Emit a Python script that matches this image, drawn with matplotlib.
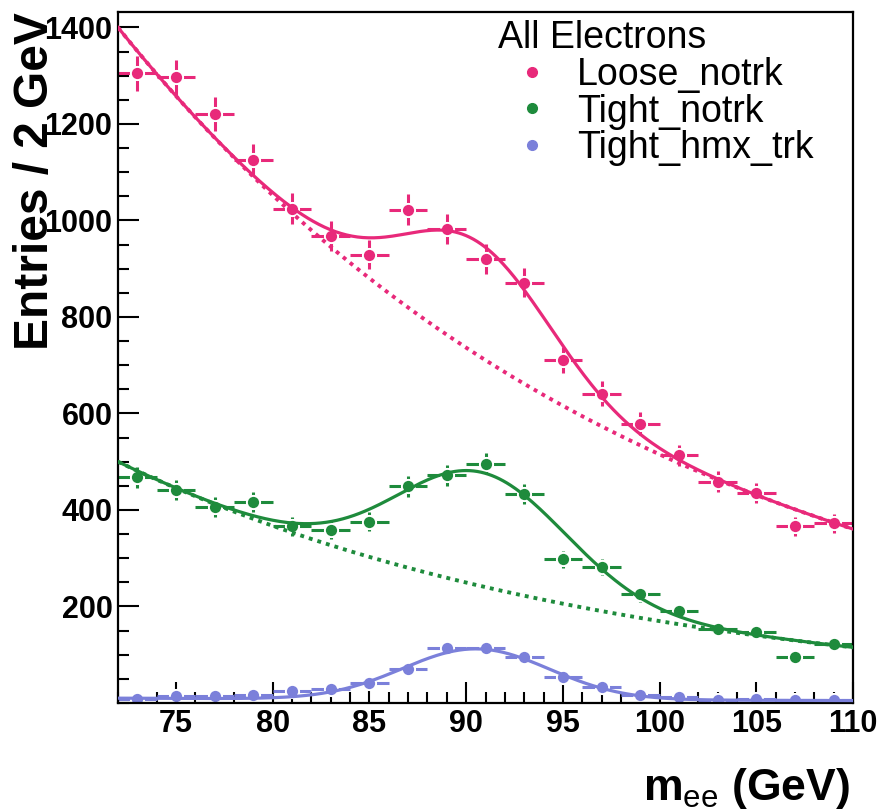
import numpy as np
import matplotlib
matplotlib.use('Agg')
import matplotlib.pyplot as plt
from matplotlib.lines import Line2D
from matplotlib.ticker import MultipleLocator, FixedLocator

plt.rcParams['font.family'] = ['Liberation Sans', 'DejaVu Sans']
plt.rcParams['mathtext.fontset'] = 'custom'
plt.rcParams['mathtext.rm'] = 'Liberation Sans'
plt.rcParams['mathtext.bf'] = 'Liberation Sans:bold'

# bin centres (2 GeV bins from 72 to 110)
mass = [73, 75, 77, 79, 81, 83, 85, 87, 89, 91, 93, 95, 97, 99, 101, 103, 105, 107, 109]

# entries per bin for each selection
loose_notrk = [1305, 1297, 1220, 1125, 1024, 968, 929, 1022, 982, 920, 871, 711, 641, 579, 513, 459, 436, 366, 372]
tight_notrk = [468, 442, 406, 416, 366, 358, 376, 449, 472, 496, 434, 298, 281, 225, 190, 153, 147, 95, 122]
tight_hmx_trk = [8, 14, 14, 17, 25, 29, 41, 70, 114, 114, 95, 54, 33, 17, 12, 6, 8, 6, 6]

labels = ['Loose_notrk', 'Tight_notrk', 'Tight_hmx_trk']
colours = ['#E8297A', '#1E8B3C', '#7B80DA']

# fit results: exponential background (norm at 72 GeV, slope) + gaussian peak (amp, mean, sigma)
bkg_norm = [1400, 500, 10]
bkg_slope = [0.0357, 0.0386, 0.018]
sig_amp = [235, 236, 105]
sig_mean = [90.6, 90.8, 90.5]
sig_width = [3.9, 4.4, 3.8]
draw_bkg = [True, True, False]

y_labels = [200, 400, 600, 800, 1000, 1200, 1400]

xlo, xhi = 72, 110


def bkg(x, i):
    return bkg_norm[i] * np.exp(-bkg_slope[i] * (x - xlo))


def total(x, i):
    return bkg(x, i) + sig_amp[i] * np.exp(-0.5 * ((x - sig_mean[i]) / sig_width[i]) ** 2)


fig = plt.figure(figsize=(8.82, 8.11), dpi=100)
ax = fig.add_axes([118 / 882, 108 / 811, 735 / 882, 691 / 811])

xfit = np.linspace(xlo, xhi, 400)
handles = []
for i, counts in enumerate([loose_notrk, tight_notrk, tight_hmx_trk]):
    counts = np.array(counts, dtype=float)
    c = colours[i]
    ax.errorbar(mass, counts, xerr=1.0, yerr=np.sqrt(counts), fmt='o', color=c,
                ms=9.5, mec='white', mew=1.4, mfc=c, elinewidth=2.2, capsize=0, zorder=2)
    ax.plot(xfit, total(xfit, i), color=c, lw=2.3, zorder=4)
    if draw_bkg[i]:
        ax.plot(xfit, bkg(xfit, i), color=c, lw=2.8, ls=(0, (1, 1.3)), zorder=3)
    handles.append(Line2D([], [], ls='none', marker='o', color=c, ms=7))

ax.set_xlim(xlo, xhi)
ax.set_ylim(0, 1432)
ax.xaxis.set_major_locator(MultipleLocator(5))
ax.xaxis.set_minor_locator(MultipleLocator(1))
# no label at zero on the y axis
ax.yaxis.set_major_locator(FixedLocator(y_labels))
ax.yaxis.set_minor_locator(MultipleLocator(50))
ax.tick_params(which='both', direction='in', top=False, right=False, width=1.5)
ax.tick_params(which='major', length=15)
ax.tick_params(which='minor', length=8)
ax.tick_params(axis='y', pad=4)
ax.tick_params(axis='x', pad=4)
for lab in ax.get_xticklabels() + ax.get_yticklabels():
    lab.set_fontsize(22)
    lab.set_fontweight('bold')
for sp in ax.spines.values():
    sp.set_linewidth(1.6)

ax.legend(handles=handles, labels=labels, title='All Electrons', alignment='left',
          loc='upper left', bbox_to_anchor=(498 / 882, 1 - 20 / 811), bbox_transform=fig.transFigure,
          frameon=False, fontsize=27, title_fontsize=27, borderpad=0, borderaxespad=0,
          handlelength=1.8, handletextpad=0.3, labelspacing=0.02, numpoints=1)

fig.text(850 / 882, 1 - 800 / 811, r'$\mathbf{m}_{\mathrm{ee}}$ (GeV)', ha='right', va='baseline',
         fontsize=32, fontweight='bold')
fig.text(36 / 882, 1 - 350 / 811, 'Entries / 2 GeV', rotation=90, ha='center', va='bottom',
         fontsize=34.5, fontweight='bold', zorder=5)

fig.savefig('out.png', dpi=100)
